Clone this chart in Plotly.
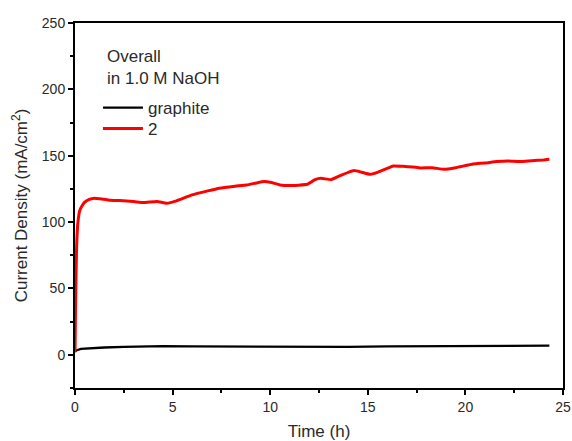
import plotly.graph_objects as go

time_graphite = [0, 0.1, 0.3, 0.6, 0.9, 1.5, 2.5, 3.5, 4.5, 6, 8, 10, 12, 14, 16, 18, 20, 22, 24.3]
cd_graphite = [2.5, 3.5, 4.5, 4.8, 4.6, 5.5, 6.0, 6.3, 6.5, 6.3, 6.2, 6.0, 6.2, 6.0, 6.4, 6.6, 6.7, 6.6, 6.9]

time_2 = [0, 0.03, 0.08, 0.15, 0.25, 0.35, 0.5, 0.7, 1.0, 1.3, 1.8, 2.3, 3.0, 3.5, 4.2, 4.7, 5.2, 6.0, 6.8, 7.4, 8.2, 8.8, 9.3, 9.7, 10.0,
          10.5, 11.0, 11.9, 12.3, 12.6, 13.1, 13.5, 14.0, 14.3, 14.7, 15.1, 15.5, 16.0, 16.3, 16.8, 17.3, 17.7,
          18.3, 18.9, 19.5, 20.4, 21.0, 21.6, 22.2, 22.8, 23.4, 24.0, 24.3]
cd_2 = [2, 40, 80, 100, 109, 112, 115, 117, 118, 117.5, 116.5, 116.2, 115.5, 114.7, 115.5, 114.2, 116, 120.5, 123.5, 125.5, 127, 128, 129.5, 130.5, 130,
        128, 127.5, 128.5, 132, 133, 132, 134.5, 137.5, 138.8, 137.5, 136, 137.5, 140.5, 142.3, 142, 141.5, 140.8,
        141, 139.8, 141, 143.8, 144.5, 145.6, 146, 145.6, 146.3, 146.8, 147.3]

condition_text = "Overall<br>in 1.0 M NaOH"

fig = go.Figure()
fig.add_trace(go.Scatter(x=time_graphite, y=cd_graphite, mode="lines", name="graphite",
                         line=dict(color="black", width=2.3), legend="legend"))
fig.add_trace(go.Scatter(x=time_2, y=cd_2, mode="lines", name="2",
                         line=dict(color="#ff0000", width=3, shape="spline", smoothing=0.4), legend="legend2"))

txt = "#2a2a2a"
fam = "Liberation Sans, Arial, sans-serif"
axis_font = dict(family=fam, size=14, color=txt)
leg_common = dict(xanchor="left", yanchor="middle", font=dict(size=17, color=txt),
                  bgcolor="rgba(0,0,0,0)", itemwidth=40)
fig.update_layout(
    width=572, height=441,
    margin=dict(l=75, r=9, t=23, b=53),
    paper_bgcolor="white", plot_bgcolor="white",
    font=dict(family=fam, color=txt),
    showlegend=True,
    legend=dict(x=0.047, y=0.767, **leg_common),
    legend2=dict(x=0.047, y=0.710, **leg_common),
    annotations=[dict(text=condition_text, xref="paper", yref="paper", x=0.0615, y=0.877,
                      xanchor="left", yanchor="middle", align="left", showarrow=False,
                      font=dict(size=17, color=txt))],
    xaxis=dict(range=[0, 25], dtick=5, tick0=0, showgrid=False, zeroline=False,
               showline=True, linecolor="black", linewidth=2, mirror=True, automargin=False,
               ticks="outside", ticklen=5, tickwidth=1.5, tickcolor="black",
               minor=dict(dtick=2.5, ticks="outside", ticklen=3, tickwidth=1.5, tickcolor="black"),
               tickfont=axis_font,
               title=dict(text="Time (h)", font=dict(size=17, color=txt), standoff=12)),
    yaxis=dict(range=[-25, 250], dtick=50, tick0=0, showgrid=False, zeroline=False,
               showline=True, linecolor="black", linewidth=2, mirror=True, automargin=False,
               ticks="outside", ticklen=5, tickwidth=1.5, tickcolor="black",
               minor=dict(dtick=25, tick0=0, ticks="outside", ticklen=3, tickwidth=1.5, tickcolor="black"),
               tickfont=axis_font,
               title=dict(text="Current Density (mA/cm<sup>2</sup>)", font=dict(size=17, color=txt), standoff=10)),
)

fig.write_html("out.html")
